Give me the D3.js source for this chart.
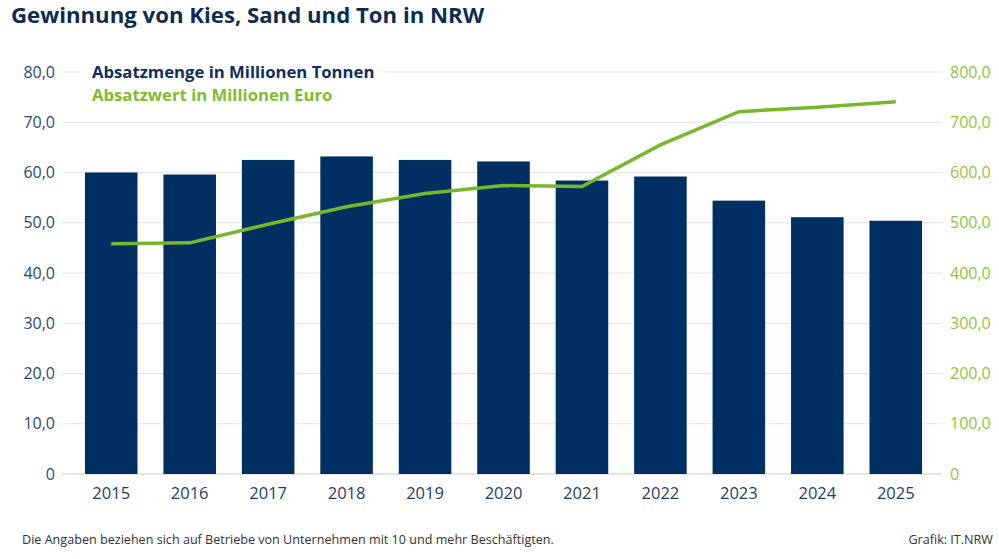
<!DOCTYPE html>
<html><head><meta charset="utf-8">
<script src="https://cdn.jsdelivr.net/npm/d3@7"></script>
<style>
html,body{margin:0;padding:0;background:#fff;}
text{font-family:"Open Sans",sans-serif;}
</style></head><body>
<svg id="chart" width="999" height="559"></svg>
<script>
const years = ["2015","2016","2017","2018","2019","2020","2021","2022","2023","2024","2025"];
const absatzmenge = [60.0,59.6,62.5,63.2,62.5,62.2,58.4,59.2,54.4,51.1,50.4];
const absatzwert = [458,460,497,532,558,574,572,655,721,730,741];
const leftTicks = [0,10,20,30,40,50,60,70,80];
const rightTicks = [0,100,200,300,400,500,600,700,800];

const svg = d3.select("#chart");
const navy = "#003063", green = "#76b82a";
const x = d3.scaleBand().domain(years).range([72,935]).paddingInner(0.33).paddingOuter(0.165);
const yL = d3.scaleLinear().domain([0,80]).range([474,72]);
const yR = d3.scaleLinear().domain([0,800]).range([474,72]);
const fmt = v => v===0 ? "0" : d3.format(".1f")(v).replace(".",",");

// gridlines
svg.append("g").selectAll("line").data(leftTicks).join("line")
  .attr("x1",62).attr("x2",942).attr("y1",d=>yL(d)).attr("y2",d=>yL(d))
  .attr("stroke",d=>d===0?"#c8c8c8":"#e3e3e3").attr("stroke-width",1);

// left axis
const gl = svg.append("g").attr("transform","translate(62,0)")
  .call(d3.axisLeft(yL).tickValues(leftTicks).tickFormat(fmt).tickSize(0).tickPadding(7));
gl.select(".domain").remove();
gl.selectAll("text").attr("fill","#2b4a73").style("font-size","16px");

// right axis
const gr = svg.append("g").attr("transform","translate(942,0)")
  .call(d3.axisRight(yR).tickValues(rightTicks).tickFormat(fmt).tickSize(0).tickPadding(8));
gr.select(".domain").remove();
gr.selectAll("text").attr("fill","#8cc63f").style("font-size","16px");

// bottom axis
const gb = svg.append("g").attr("transform","translate(0,474)")
  .call(d3.axisBottom(x).tickSize(0).tickPadding(13));
gb.select(".domain").remove();
gb.selectAll("text").attr("fill","#1f3d68").style("font-size","16.5px");

// legend background (covers gridline)
svg.append("rect").attr("x",82).attr("y",60).attr("width",303).attr("height",48).attr("fill","#fff");

// bars
svg.append("g").selectAll("rect").data(years).join("rect")
  .attr("x",d=>x(d)).attr("width",x.bandwidth())
  .attr("y",(d,i)=>yL(absatzmenge[i])).attr("height",(d,i)=>yL(0)-yL(absatzmenge[i]))
  .attr("fill",navy);

// line
svg.append("path").datum(absatzwert)
  .attr("d",d3.line().x((d,i)=>x(years[i])+x.bandwidth()/2).y(d=>yR(d)))
  .attr("fill","none").attr("stroke",green).attr("stroke-width",3.5);

// title
svg.append("text").attr("x",11).attr("y",23).text("Gewinnung von Kies, Sand und Ton in NRW")
  .attr("fill","#0d2b52").style("font-size","22.2px").style("font-weight","700");

// legend
svg.append("text").attr("x",92).attr("y",78).text("Absatzmenge in Millionen Tonnen")
  .attr("fill","#0d2f5e").style("font-size","16.7px").style("font-weight","700");
svg.append("text").attr("x",92).attr("y",101).text("Absatzwert in Millionen Euro")
  .attr("fill","#7dbd2e").style("font-size","16.7px").style("font-weight","700");

// footer
svg.append("text").attr("x",22).attr("y",544).text("Die Angaben beziehen sich auf Betriebe von Unternehmen mit 10 und mehr Beschäftigten.")
  .attr("fill","#333").style("font-size","12.6px");
svg.append("text").attr("x",993).attr("y",544).attr("text-anchor","end").text("Grafik: IT.NRW")
  .attr("fill","#333").style("font-size","12.6px");
</script>
</body></html>
